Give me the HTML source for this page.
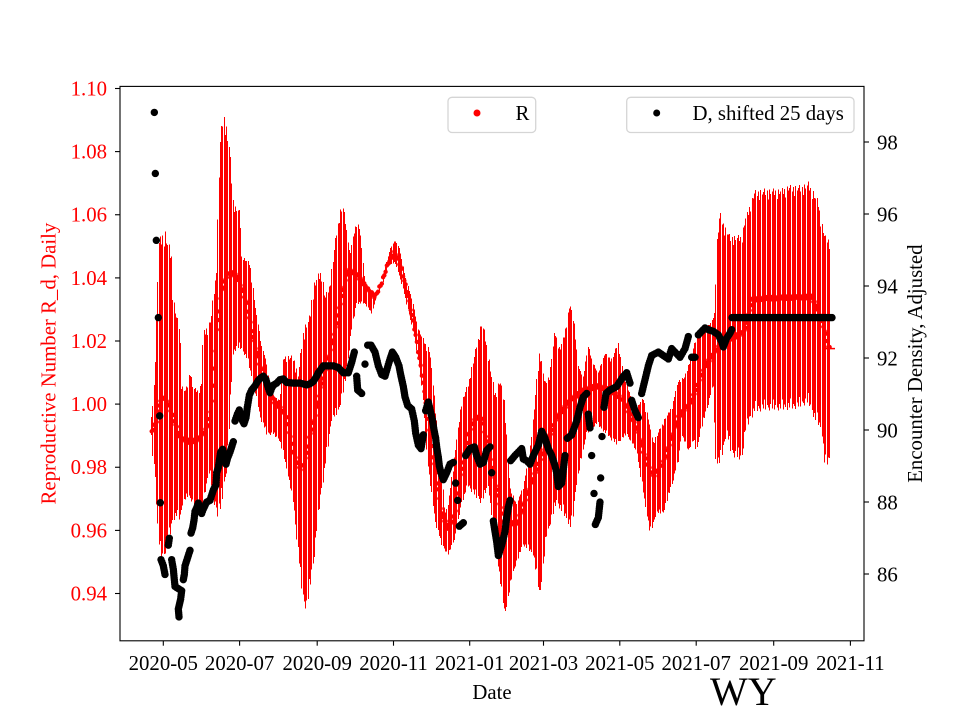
<!DOCTYPE html>
<html><head><meta charset="utf-8">
<style>
html,body{margin:0;padding:0;background:#fff;}
svg{display:block;}
text{font-family:"Liberation Serif","Times New Roman",serif;}
</style></head><body>
<svg id="c" width="960" height="720" viewBox="0 0 960 720" xmlns="http://www.w3.org/2000/svg">
<rect width="960" height="720" fill="#fff"/>
<g id="red"></g>
<g id="blk"></g>
<rect x="120" y="86.4" width="744" height="554.4" fill="none" stroke="#000" stroke-width="1.1"/>
<g stroke="#000" stroke-width="1.1">
<line x1="115" y1="88.5" x2="120" y2="88.5"/>
<line x1="115" y1="151.6" x2="120" y2="151.6"/>
<line x1="115" y1="214.75" x2="120" y2="214.75"/>
<line x1="115" y1="277.9" x2="120" y2="277.9"/>
<line x1="115" y1="341" x2="120" y2="341"/>
<line x1="115" y1="404.1" x2="120" y2="404.1"/>
<line x1="115" y1="467.25" x2="120" y2="467.25"/>
<line x1="115" y1="530.4" x2="120" y2="530.4"/>
<line x1="115" y1="593.5" x2="120" y2="593.5"/>
<line x1="864" y1="142" x2="869" y2="142"/>
<line x1="864" y1="214" x2="869" y2="214"/>
<line x1="864" y1="286" x2="869" y2="286"/>
<line x1="864" y1="358" x2="869" y2="358"/>
<line x1="864" y1="430" x2="869" y2="430"/>
<line x1="864" y1="502" x2="869" y2="502"/>
<line x1="864" y1="574" x2="869" y2="574"/>
<line x1="163.3" y1="640.8" x2="163.3" y2="645.7"/>
<line x1="239.6" y1="640.8" x2="239.6" y2="645.7"/>
<line x1="317.2" y1="640.8" x2="317.2" y2="645.7"/>
<line x1="393.5" y1="640.8" x2="393.5" y2="645.7"/>
<line x1="469.7" y1="640.8" x2="469.7" y2="645.7"/>
<line x1="543.5" y1="640.8" x2="543.5" y2="645.7"/>
<line x1="619.8" y1="640.8" x2="619.8" y2="645.7"/>
<line x1="696.2" y1="640.8" x2="696.2" y2="645.7"/>
<line x1="773.7" y1="640.8" x2="773.7" y2="645.7"/>
<line x1="850.4" y1="640.8" x2="850.4" y2="645.7"/>
</g>
<g font-size="20.8" fill="#ff0000" text-anchor="end">
<text x="107" y="95.5">1.10</text>
<text x="107" y="158.6">1.08</text>
<text x="107" y="221.7">1.06</text>
<text x="107" y="284.9">1.04</text>
<text x="107" y="348">1.02</text>
<text x="107" y="411.1">1.00</text>
<text x="107" y="474.2">0.98</text>
<text x="107" y="537.4">0.96</text>
<text x="107" y="600.5">0.94</text>
</g>
<g font-size="20.8" fill="#000" text-anchor="start">
<text x="877" y="149.5">98</text>
<text x="877" y="221.5">96</text>
<text x="877" y="293.5">94</text>
<text x="877" y="365.5">92</text>
<text x="877" y="437.5">90</text>
<text x="877" y="509.5">88</text>
<text x="877" y="581.5">86</text>
</g>
<g font-size="20.8" fill="#000" text-anchor="middle">
<text x="163.3" y="670">2020-05</text>
<text x="239.6" y="670">2020-07</text>
<text x="317.2" y="670">2020-09</text>
<text x="393.5" y="670">2020-11</text>
<text x="469.7" y="670">2021-01</text>
<text x="543.5" y="670">2021-03</text>
<text x="619.8" y="670">2021-05</text>
<text x="696.2" y="670">2021-07</text>
<text x="773.7" y="670">2021-09</text>
<text x="850.4" y="670">2021-11</text>
<text x="492" y="699">Date</text>
</g>
<text x="55.5" y="363.6" font-size="20.8" fill="#ff0000" text-anchor="middle" transform="rotate(-90 55.5 363.6)">Reproductive Number R_d, Daily</text>
<text x="922" y="363.6" font-size="20.8" fill="#000" text-anchor="middle" transform="rotate(-90 922 363.6)">Encounter Density, Adjusted</text>
<text x="710" y="705" font-size="40" fill="#000">WY</text>
<rect x="448" y="97.3" width="87.7" height="35.2" rx="4" ry="4" fill="#fff" fill-opacity="0.8" stroke="#d5d5d5" stroke-width="1.3"/>
<circle cx="477" cy="113" r="3.5" fill="#ff0000"/>
<text x="515.5" y="120" font-size="20.8" fill="#000">R</text>
<rect x="626.7" y="97.3" width="227.3" height="35.2" rx="4" ry="4" fill="#fff" fill-opacity="0.8" stroke="#d5d5d5" stroke-width="1.3"/>
<circle cx="656.7" cy="113" r="3.5" fill="#000"/>
<text x="692.5" y="120" font-size="20.8" fill="#000">D, shifted 25 days</text>
</svg>
<script>
(function(){
const NS='http://www.w3.org/2000/svg';
function seg(x0,y0,arr,xmin,xmax){const o=[];for(const p of arr){const x=x0+p[0]/3,y=y0+p[1]/2.9;if(x>=xmin&&x<xmax)o.push([x,y]);}return o;}
function build(a5,a6,a7,a8){return [].concat(seg(140,90,a5,0,317),seg(315,90,a6,317,492),seg(490,90,a7,492,667),seg(665,90,a8,667,2000));}
function interp(a,x){if(x<=a[0][0])return a[0][1];for(let i=1;i<a.length;i++){if(x<=a[i][0]){const d=a[i][0]-a[i-1][0];const t=d>0?(x-a[i-1][0])/d:0;return a[i-1][1]+t*(a[i][1]-a[i-1][1]);}}return a[a.length-1][1];}

const U5=[[35,950],[40,900],[45,810],[52,600],[57,430],[65,420],[75,400],[85,440],[95,470],[100,600],[110,650],[120,680],[125,850],[135,870],[145,850],[150,800],[160,860],[175,870],[185,850],[190,700],[205,680],[215,650],[220,600],[230,520],[240,150],[248,80],[252,65],[260,100],[270,170],[280,330],[300,350],[305,480],[330,500],[345,620],[365,740],[380,790],[390,880],[420,900],[430,770],[460,770],[475,820],[490,690],[510,650],[520,560],[540,520]];
const L5=[[35,1000],[40,1080],[45,1100],[50,1200],[55,1300],[60,1350],[70,1370],[80,1330],[90,1300],[100,1250],[110,1240],[120,1250],[130,1200],[145,1180],[160,1200],[170,1220],[180,1230],[190,1200],[200,1150],[210,1100],[220,1200],[235,1240],[245,1220],[255,1150],[262,1100],[270,950],[280,760],[300,750],[320,780],[340,850],[360,950],[380,1000],[400,1000],[420,1020],[440,1100],[460,1200],[470,1300],[480,1400],[490,1490],[500,1510],[510,1450],[520,1380],[540,1350]];
const C5=[[35,990],[50,960],[60,900],[70,890],[80,900],[100,950],[120,1010],[150,1020],[180,1010],[200,980],[210,950],[220,850],[230,700],[245,580],[260,540],[270,530],[290,540],[300,560],[320,620],[340,720],[360,800],[380,850],[400,900],[420,920],[440,950],[460,1050],[480,1100],[495,1080],[510,1000],[525,950],[540,900]];
const U6=[[0,650],[10,530],[20,520],[30,600],[45,560],[60,440],[75,345],[85,335],[95,400],[105,480],[115,420],[125,380],[135,400],[150,560],[165,600],[180,640],[195,580],[210,520],[225,460],[240,435],[255,460],[270,540],[290,600],[310,690],[330,730],[345,750],[360,900],[380,1100],[390,1230],[400,1200],[420,1050],[440,900],[460,850],[480,760],[500,670],[510,700],[520,760],[540,880]];
const L6=[[0,1240],[15,1200],[30,1100],[50,960],[70,940],[90,860],[110,700],[125,620],[150,620],[170,650],[185,600],[200,570],[220,510],[240,500],[260,560],[280,640],[300,720],[320,850],[340,1100],[360,1250],[380,1320],[400,1350],[420,1300],[440,1200],[460,1150],[480,1180],[500,1200],[520,1150],[540,1150]];
const C6=[[0,950],[20,850],[40,780],[60,700],[80,600],[100,520],[130,540],[160,580],[180,600],[200,560],[220,500],[240,470],[260,520],[280,600],[300,700],[320,820],[340,960],[360,1100],[380,1230],[400,1270],[420,1230],[440,1100],[460,1000],[480,950],[500,950],[540,960]];
const U7=[[0,850],[15,880],[30,830],[45,900],[60,1150],[80,1200],[100,1150],[120,1050],[135,900],[150,740],[165,850],[180,820],[195,690],[210,750],[225,700],[240,610],[255,680],[265,800],[280,830],[295,740],[310,790],[325,820],[345,760],[365,780],[385,730],[400,820],[420,880],[440,920],[460,890],[475,950],[490,1020],[510,980],[525,950],[540,920]];
const L7=[[0,1200],[20,1350],[45,1530],[70,1400],[100,1320],[130,1350],[150,1480],[170,1300],[200,1200],[230,1250],[245,1280],[260,1150],[290,1000],[320,970],[350,1000],[380,1030],[410,1000],[440,1050],[465,1200],[480,1290],[500,1230],[520,1230],[540,1160]];
const C7=[[0,1000],[40,1250],[80,1260],[120,1150],[160,1050],[200,950],[240,900],[280,870],[320,860],[360,870],[400,900],[440,980],[470,1080],[490,1120],[520,1080],[540,1040]];
const U8=[[0,960],[20,920],[40,840],[60,830],[80,760],[100,700],[120,690],[140,670],[150,640],[155,440],[165,350],[175,380],[185,400],[195,420],[230,420],[240,370],[255,330],[268,290],[300,285],[350,285],[370,275],[410,275],[430,265],[445,290],[460,320],[470,380],[480,420],[495,430]];
const L8=[[0,1230],[20,1150],[40,1080],[50,1000],[70,1050],[85,1020],[95,1050],[105,1000],[125,930],[145,860],[152,1080],[165,1090],[185,1000],[200,1060],[230,1080],[240,1000],[255,960],[270,935],[300,930],[350,930],[400,925],[430,910],[450,960],[470,990],[480,1100],[495,1075]];
const C8=[[0,1100],[40,950],[80,900],[120,800],[150,760],[170,730],[200,720],[240,700],[260,610],[300,605],[400,600],[440,600],[460,640],[480,700],[492,750]];

const U=build(U5,U6,U7,U8),L=build(L5,L6,L7,L8),C=build(C5,C6,C7,C8);
const red=document.getElementById('red');
const w=[1,0.94,0.98,0.9,0.99,0.95,0.97];
let d='';let dots='';
let i=0;
for(let x=151.7;x<=830.2;x+=1.2508,i++){
  let c=interp(C,x),t=interp(U,x),b=interp(L,x);
  if(t>c)t=c; if(b<c)b=c;
  const top=c-(c-t)*w[i%7], bot=c+(b-c)*w[(i+3)%7];
  const px=Math.floor(x)+0.5;
  d+='M'+px.toFixed(1)+' '+top.toFixed(1)+'V'+bot.toFixed(1);
  const cy=c+1.5*Math.sin(i*2.13);
  dots+='M'+(x-2.2).toFixed(2)+' '+cy.toFixed(1)+'a2.2 2.2 0 1 0 4.4 0a2.2 2.2 0 1 0 -4.4 0';
}
let p=document.createElementNS(NS,'path');p.setAttribute('d',d);p.setAttribute('stroke','#ff0000');p.setAttribute('stroke-width','1');p.setAttribute('fill','none');p.setAttribute('shape-rendering','crispEdges');red.appendChild(p);
p=document.createElementNS(NS,'path');p.setAttribute('d',dots);p.setAttribute('fill','#ff0000');red.appendChild(p);
p=document.createElementNS(NS,'path');p.setAttribute('d','M822 348.6H835');p.setAttribute('stroke','#ff0000');p.setAttribute('stroke-width','1.5');red.appendChild(p);

const B5=[[43,65],[46,242],[49,436],[55,660],[59,945],[61,1197],[88,1300],[85,1320],[63,1362],[70,1380],[75,1405],[95,1362],[100,1390],[103,1420],[105,1440],[125,1452],[122,1476],[115,1505],[117,1528],[130,1420],[133,1405],[135,1380],[140,1365],[145,1350],[150,1335],[153,1285],[158,1270],[162,1248],[165,1222],[170,1212],[175,1198],[180,1222],[185,1228],[190,1215],[200,1195],[210,1190],[215,1175],[220,1160],[228,1145],[230,1110],[235,1095],[238,1075],[242,1050],[248,1042],[252,1060],[258,1085],[262,1070],[270,1050],[280,1020],[285,960],[292,940],[298,928],[305,955],[312,968],[318,950],[322,920],[328,885],[335,870],[345,858],[355,842],[362,835],[370,830],[378,840],[385,865],[390,878],[395,865],[400,856],[410,850],[420,840],[430,838],[440,848],[460,850],[480,850],[500,855],[510,852],[520,845],[530,830]];
const B6=[[0,850],[10,820],[25,800],[40,800],[55,800],[70,805],[85,820],[100,820],[110,790],[118,760],[125,830],[128,870],[140,880],[150,795],[158,740],[168,740],[180,760],[190,800],[200,825],[210,830],[222,790],[232,760],[242,775],[252,800],[258,830],[265,860],[270,890],[278,915],[290,925],[298,960],[302,995],[310,1030],[318,1040],[325,1000],[332,930],[340,905],[347,935],[352,955],[357,985],[362,1010],[365,1035],[370,1065],[373,1090],[378,1110],[385,1130],[395,1110],[405,1085],[415,1080],[422,1140],[428,1190],[433,1265],[445,1255],[452,1060],[465,1040],[478,1035],[485,1060],[495,1085],[505,1080],[515,1045],[525,1035],[530,1110]];
const B7=[[0,1040],[5,1110],[10,1250],[15,1280],[20,1310],[25,1350],[35,1320],[45,1280],[50,1240],[55,1210],[60,1190],[62,1075],[75,1060],[95,1040],[100,1070],[110,1075],[120,1085],[130,1060],[145,1030],[155,990],[165,1010],[175,1040],[185,1060],[195,1090],[200,1110],[205,1150],[215,1140],[220,1100],[225,1060],[232,1010],[245,1000],[260,960],[270,920],[280,890],[290,880],[295,940],[300,980],[305,1060],[312,1170],[316,1260],[325,1240],[330,1195],[332,1125],[336,1005],[342,920],[348,880],[360,870],[380,860],[400,830],[410,820],[420,850],[425,900],[435,930],[445,950],[455,880],[465,840],[475,800],[485,770],[505,760],[520,770],[540,750]];
const B8=[[0,790],[10,780],[20,750],[30,760],[45,775],[60,750],[70,715],[80,775],[90,775],[100,710],[110,700],[120,690],[130,695],[145,700],[160,710],[170,730],[175,745],[185,720],[195,705],[200,695]];
const BP=[].concat(seg(140,90,B5,0,317),seg(315,90,B6,317,492),seg(490,90,B7,492,667),seg(665,90,B8,667,2000));
const pts=[];
for(let k=0;k<BP.length;k++){
  if(k>0){const a=BP[k-1],b=BP[k];const dx=b[0]-a[0],dy=b[1]-a[1];const dist=Math.hypot(dx,dy);
    if(dist>3&&dist<16){const n=Math.ceil(dist/2.5);for(let j=1;j<n;j++)pts.push([a[0]+dx*j/n,a[1]+dy*j/n]);}}
  pts.push(BP[k]);
}
for(let x=732;x<=832;x+=1.25)pts.push([x,317.6]);
let bd='';
for(const q of pts){bd+='M'+(q[0]-3.7).toFixed(2)+' '+q[1].toFixed(2)+'a3.7 3.7 0 1 0 7.4 0a3.7 3.7 0 1 0 -7.4 0';}
p=document.createElementNS(NS,'path');p.setAttribute('d',bd);p.setAttribute('fill','#000');
document.getElementById('blk').appendChild(p);
})();
</script>
</body></html>
